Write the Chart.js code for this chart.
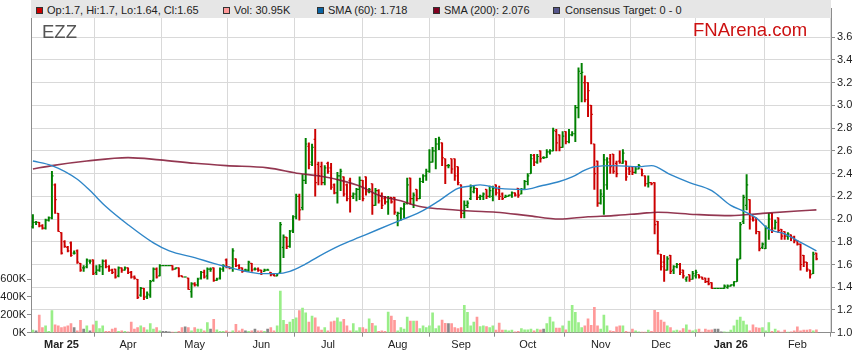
<!DOCTYPE html>
<html><head><meta charset="utf-8">
<script src="https://cdn.jsdelivr.net/npm/chart.js@4.4.1/dist/chart.umd.min.js"></script>
<style>
html,body{margin:0;padding:0;background:#fff;}
#wrap{position:relative;width:859px;height:363px;overflow:hidden;font-family:"Liberation Sans",Arial,sans-serif;}
#c{position:absolute;left:0;top:0;}
#band{position:absolute;left:31px;top:0;width:800px;height:18px;background:#e6e6e6;}
.sw{position:absolute;top:7px;width:5px;height:5px;border:1px solid #333;}
.lt{position:absolute;top:5px;font-size:11px;line-height:11px;color:#222;white-space:nowrap;}
#ttl{position:absolute;left:42px;top:23px;font-size:18.5px;line-height:18.5px;color:#555;}
#brand{position:absolute;left:693px;top:21px;font-size:18.5px;line-height:18.5px;color:#cc1111;}
</style></head>
<body><div id="wrap"><canvas id="c" width="859" height="363"></canvas>
<div id="band">
 <div class="sw" style="left:5px;background:#cc0000"></div><span class="lt" style="left:16px">Op:1.7, Hi:1.7, Lo:1.64, Cl:1.65</span>
 <div class="sw" style="left:192px;background:#ff9999"></div><span class="lt" style="left:203px">Vol: 30.95K</span>
 <div class="sw" style="left:286px;background:#0a64a4"></div><span class="lt" style="left:297px">SMA (60): 1.718</span>
 <div class="sw" style="left:402px;background:#800020"></div><span class="lt" style="left:413px">SMA (200): 2.076</span>
 <div class="sw" style="left:522px;background:#55558a"></div><span class="lt" style="left:534px">Consensus Target: 0 - 0</span>
</div>
<div id="ttl">EZZ</div><div id="brand">FNArena.com</div>
</div>
<script>
// ---- data ----
const opens = [
1.93,1.97,1.97,1.94,1.92,1.99,2.01,2.30,2.05,1.88,
1.80,1.75,1.79,1.70,1.72,1.61,1.57,1.58,1.63,1.64,
1.53,1.55,1.58,1.63,1.58,1.55,1.56,1.50,1.57,1.55,
1.57,1.53,1.49,1.47,1.33,1.39,1.32,1.33,1.46,1.56,
1.50,1.59,1.59,1.59,1.59,1.56,1.57,1.50,1.49,1.48,
1.36,1.43,1.42,1.48,1.53,1.50,1.56,1.57,1.46,1.48,
1.56,1.64,1.58,1.57,1.65,1.59,1.57,1.55,1.55,1.61,
1.56,1.56,1.55,1.54,1.55,1.53,1.51,1.50,1.53,1.75,
1.84,1.76,1.90,2.02,2.20,2.10,2.34,2.64,2.50,2.70,
2.48,2.46,2.32,2.49,2.45,2.30,2.23,2.38,2.37,2.30,
2.34,2.20,2.22,2.26,2.34,2.37,2.24,2.31,2.12,2.25,
2.20,2.18,2.15,2.19,2.19,2.03,2.05,2.09,2.14,2.36,
2.18,2.26,2.18,2.33,2.38,2.42,2.50,2.60,2.66,2.67,
2.53,2.47,2.53,2.53,2.46,2.30,2.05,2.12,2.18,2.24,
2.27,2.19,2.20,2.26,2.20,2.20,2.30,2.26,2.22,2.19,
2.20,2.21,2.23,2.27,2.22,2.26,2.33,2.40,2.56,2.50,
2.60,2.54,2.54,2.59,2.60,2.77,2.74,2.63,2.77,2.68,
2.74,2.75,2.98,3.28,3.20,3.20,3.00,2.66,2.51,2.14,
2.20,2.30,2.53,2.57,2.49,2.51,2.49,2.51,2.44,2.46,
2.41,2.44,2.44,2.38,2.31,2.32,2.32,1.98,1.69,1.62,
1.55,1.68,1.55,1.58,1.60,1.55,1.47,1.51,1.47,1.50,
1.51,1.49,1.48,1.45,1.44,1.39,1.39,1.39,1.39,1.40,
1.41,1.42,1.45,1.65,1.98,2.12,2.17,2.02,2.01,1.89,
1.75,1.74,1.92,2.05,1.92,2.01,1.91,1.89,1.85,1.86,
1.84,1.81,1.78,1.68,1.62,1.55,1.52,1.70];
const highs = [
2.04,1.98,1.97,1.95,2.00,2.02,2.42,2.31,2.05,1.88,
1.81,1.76,1.80,1.72,1.73,1.61,1.59,1.65,1.64,1.64,
1.59,1.60,1.64,1.64,1.59,1.56,1.56,1.58,1.57,1.58,
1.57,1.54,1.50,1.47,1.40,1.39,1.36,1.46,1.57,1.57,
1.60,1.59,1.59,1.59,1.59,1.57,1.57,1.50,1.49,1.48,
1.44,1.44,1.48,1.54,1.55,1.57,1.57,1.57,1.48,1.57,
1.60,1.65,1.58,1.74,1.65,1.60,1.57,1.56,1.63,1.61,
1.57,1.57,1.55,1.56,1.56,1.53,1.52,1.52,1.97,1.86,
1.84,1.90,2.03,2.22,2.22,2.39,2.71,2.67,2.66,2.79,
2.50,2.50,2.47,2.50,2.49,2.31,2.41,2.44,2.37,2.31,
2.36,2.23,2.27,2.37,2.34,2.37,2.27,2.31,2.27,2.26,
2.23,2.20,2.20,2.19,2.19,2.06,2.10,2.14,2.36,2.36,
2.23,2.26,2.36,2.39,2.44,2.61,2.63,2.71,2.72,2.67,
2.53,2.48,2.53,2.53,2.46,2.30,2.16,2.16,2.30,2.29,
2.27,2.21,2.23,2.26,2.29,2.29,2.30,2.29,2.23,2.21,
2.21,2.24,2.23,2.27,2.27,2.34,2.40,2.57,2.57,2.57,
2.60,2.55,2.61,2.61,2.80,2.79,2.74,2.77,2.77,2.79,
2.77,3.00,3.33,3.37,3.26,3.20,3.00,2.66,2.51,2.26,
2.57,2.54,2.57,2.57,2.51,2.60,2.61,2.51,2.46,2.46,
2.46,2.48,2.44,2.38,2.38,2.32,2.32,1.98,1.69,1.68,
1.67,1.68,1.59,1.61,1.61,1.55,1.49,1.51,1.54,1.55,
1.51,1.49,1.48,1.48,1.44,1.39,1.39,1.39,1.42,1.42,
1.42,1.45,1.65,1.97,2.21,2.39,2.17,2.02,2.01,1.89,
1.79,1.94,2.05,2.05,1.99,2.01,1.91,1.89,1.88,1.86,
1.85,1.81,1.78,1.68,1.62,1.55,1.71,1.70];
const lows = [
1.92,1.95,1.93,1.91,1.91,1.98,2.00,2.05,1.89,1.69,
1.75,1.71,1.67,1.69,1.61,1.54,1.54,1.57,1.61,1.51,
1.51,1.54,1.51,1.57,1.54,1.52,1.48,1.49,1.53,1.55,
1.52,1.48,1.47,1.30,1.32,1.29,1.30,1.31,1.45,1.48,
1.50,1.59,1.59,1.59,1.55,1.56,1.49,1.49,1.49,1.38,
1.31,1.41,1.41,1.47,1.48,1.47,1.54,1.45,1.46,1.47,
1.54,1.57,1.56,1.54,1.58,1.56,1.53,1.54,1.54,1.54,
1.55,1.54,1.51,1.54,1.55,1.50,1.50,1.50,1.53,1.66,
1.74,1.75,1.88,2.00,1.99,2.08,2.31,2.44,2.47,2.20,
2.30,2.30,2.30,2.40,2.26,2.22,2.14,2.25,2.20,2.16,
2.06,2.18,2.16,2.17,2.16,2.21,2.23,2.04,2.12,2.14,
2.09,2.13,2.04,2.14,2.04,1.94,1.99,2.01,2.13,2.13,
2.10,2.16,2.18,2.32,2.34,2.41,2.50,2.44,2.61,2.47,
2.31,2.45,2.40,2.34,2.30,2.01,2.01,2.10,2.17,2.23,
2.17,2.17,2.17,2.18,2.19,2.16,2.21,2.17,2.17,2.19,
2.20,2.19,2.20,2.19,2.22,2.26,2.30,2.40,2.47,2.49,
2.50,2.53,2.54,2.57,2.60,2.60,2.60,2.63,2.66,2.67,
2.73,2.68,2.89,3.03,3.03,2.90,2.66,2.26,2.11,2.13,
2.04,2.26,2.40,2.40,2.37,2.49,2.49,2.34,2.39,2.39,
2.40,2.44,2.38,2.29,2.28,2.30,1.87,1.69,1.55,1.45,
1.55,1.52,1.52,1.57,1.51,1.48,1.45,1.45,1.47,1.48,
1.48,1.47,1.44,1.42,1.39,1.39,1.39,1.39,1.39,1.39,
1.41,1.41,1.45,1.65,1.96,2.08,1.91,1.98,1.87,1.72,
1.74,1.74,1.82,1.88,1.91,1.88,1.82,1.82,1.82,1.81,
1.79,1.77,1.55,1.58,1.54,1.48,1.52,1.64];
const closes = [
1.97,1.97,1.94,1.92,1.99,2.01,2.38,2.17,1.89,1.70,
1.76,1.72,1.68,1.70,1.62,1.55,1.57,1.64,1.63,1.52,
1.55,1.58,1.63,1.58,1.55,1.53,1.49,1.57,1.55,1.57,
1.53,1.49,1.48,1.31,1.39,1.31,1.34,1.45,1.56,1.49,
1.59,1.59,1.59,1.59,1.56,1.57,1.50,1.49,1.49,1.38,
1.43,1.42,1.47,1.53,1.49,1.56,1.56,1.46,1.47,1.56,
1.59,1.58,1.57,1.72,1.59,1.57,1.54,1.55,1.62,1.55,
1.56,1.55,1.52,1.55,1.55,1.51,1.50,1.52,1.95,1.84,
1.76,1.89,2.02,2.20,2.08,2.34,2.66,2.48,2.63,2.32,
2.38,2.32,2.45,2.42,2.28,2.23,2.38,2.42,2.22,2.18,
2.20,2.22,2.26,2.34,2.18,2.24,2.26,2.12,2.25,2.16,
2.12,2.15,2.18,2.15,2.06,2.05,2.09,2.13,2.30,2.18,
2.21,2.18,2.33,2.38,2.42,2.50,2.60,2.66,2.70,2.54,
2.47,2.47,2.44,2.38,2.32,2.05,2.12,2.14,2.28,2.27,
2.19,2.20,2.22,2.20,2.25,2.27,2.23,2.20,2.18,2.20,
2.21,2.23,2.21,2.21,2.26,2.33,2.38,2.53,2.50,2.55,
2.53,2.54,2.59,2.60,2.78,2.67,2.63,2.73,2.68,2.74,
2.75,2.98,3.30,3.29,3.05,3.13,2.92,2.40,2.14,2.22,
2.52,2.50,2.46,2.42,2.40,2.50,2.58,2.37,2.42,2.41,
2.44,2.47,2.40,2.31,2.32,2.31,1.95,1.72,1.58,1.55,
1.65,1.54,1.58,1.60,1.53,1.50,1.49,1.47,1.52,1.53,
1.49,1.47,1.45,1.43,1.39,1.39,1.39,1.39,1.41,1.41,
1.42,1.45,1.64,1.95,2.19,2.30,2.00,1.99,1.89,1.74,
1.78,1.92,2.00,1.90,1.97,1.90,1.85,1.85,1.87,1.84,
1.81,1.78,1.60,1.62,1.56,1.51,1.69,1.65];
// volume in thousands of shares
const volumes = [
29,22,196,58,76,15,247,87,76,58,
65,76,102,58,22,138,40,76,22,87,
131,47,76,15,15,40,51,15,22,15,
11,120,40,58,76,58,33,102,40,58,
22,15,15,11,5,5,15,58,65,58,
22,58,40,40,22,112,40,149,33,15,
15,22,5,22,94,22,40,22,15,22,
40,22,22,15,40,58,22,76,465,138,
94,120,149,167,247,276,221,120,185,167,
65,29,58,22,123,131,167,123,149,76,
22,102,22,58,58,40,156,105,76,15,
22,15,232,185,138,22,58,40,174,131,
131,131,47,76,58,76,221,47,76,142,
105,102,102,58,47,58,305,229,76,120,
174,69,76,69,58,76,29,109,29,29,
22,29,11,15,47,33,33,40,22,40,
33,40,102,174,123,51,51,76,33,131,
305,229,113,58,76,156,83,283,76,40,
196,76,22,15,65,76,76,15,5,40,
22,11,5,5,29,15,250,229,142,120,
76,58,22,29,22,47,87,29,22,33,
40,5,40,29,33,40,40,11,11,5,
29,76,142,174,131,87,22,87,58,51,
58,22,113,15,40,22,5,29,5,11,
22,65,22,29,29,36,22,31];
const sma60Idx = [0,6,14,18,23,30,38,43,51,57,61,67,72,77,81,85,90,97,103,109,116,122,128,134,138,141,147,155,160,166,170,174,177,183,191,195,201,207,214,220,224,228,232,237,241,245,247];
const sma60Val = [2.51,2.47,2.35,2.25,2.11,1.95,1.79,1.72,1.66,1.61,1.58,1.54,1.52,1.52,1.54,1.59,1.67,1.77,1.84,1.91,1.99,2.06,2.16,2.27,2.29,2.30,2.27,2.26,2.29,2.33,2.37,2.43,2.46,2.47,2.46,2.47,2.39,2.32,2.25,2.12,2.07,2.01,1.91,1.87,1.81,1.75,1.72];
const sma200Idx = [0,6,17,30,40,51,61,74,84,90,97,103,109,116,122,128,138,146,156,166,175,183,192,197,209,220,230,241,247];
const sma200Val = [2.44,2.47,2.51,2.54,2.52,2.49,2.47,2.45,2.40,2.38,2.34,2.29,2.21,2.16,2.11,2.09,2.07,2.06,2.03,2.00,2.02,2.03,2.05,2.06,2.04,2.03,2.05,2.07,2.08];
const monthIdx = [9,30,51,72,93,115,135,156,179,198,220,241];
const monthLabels = ['Mar 25','Apr','May','Jun','Jul','Aug','Sep','Oct','Nov','Dec','Jan 26','Feb'];
const priceTicks = [1.0,1.2,1.4,1.6,1.8,2.0,2.2,2.4,2.6,2.8,3.0,3.2,3.4,3.6];
const volTicks = [0,200,400,600];

// ---- chart ----
const FONT = '"Liberation Sans", Arial, sans-serif';
Chart.defaults.font.family = FONT;
const idx = closes.map((_, i) => i);
const GREEN = '#008000', RED = '#cc0000';
const barCol = idx.map(i => closes[i] >= opens[i] ? GREEN : RED);
const volCol = idx.map(i => closes[i] > opens[i] ? '#99ee88' : (closes[i] < opens[i] ? '#ff9999' : '#888888'));
const GRID = '#d9d9d9', AXIS = '#8c8c8c';

new Chart(document.getElementById('c'), {
  data: {
    datasets: [
      { type: 'bar', label: 'vol', yAxisID: 'yv', order: 10, grouped: false,
        data: idx.map(i => ({ x: i, y: volumes[i] })),
        backgroundColor: volCol, barThickness: 2, borderWidth: 0 },
      { type: 'bar', label: 'hl', yAxisID: 'yp', order: 5, grouped: false,
        data: idx.map(i => ({ x: i, y: [lows[i], highs[i]] })),
        backgroundColor: barCol, barThickness: 1.3, borderWidth: 0, borderSkipped: false },
      { type: 'line', label: 'open', yAxisID: 'yp', order: 4, showLine: false,
        data: idx.map(i => ({ x: i - 0.25, y: opens[i] })),
        pointStyle: 'line', pointRadius: 0.8, pointBorderWidth: 1.2, pointBorderColor: barCol, pointBackgroundColor: barCol },
      { type: 'line', label: 'close', yAxisID: 'yp', order: 4, showLine: false,
        data: idx.map(i => ({ x: i + 0.25, y: closes[i] })),
        pointStyle: 'line', pointRadius: 0.8, pointBorderWidth: 1.2, pointBorderColor: barCol, pointBackgroundColor: barCol },
      { type: 'line', label: 'SMA (200)', yAxisID: 'yp', order: 2,
        data: sma200Idx.map((v, k) => ({ x: v, y: sma200Val[k] })),
        borderColor: 'rgba(128,20,50,0.85)', borderWidth: 1.6, pointRadius: 0, cubicInterpolationMode: 'monotone' },
      { type: 'line', label: 'SMA (60)', yAxisID: 'yp', order: 1,
        data: sma60Idx.map((v, k) => ({ x: v, y: sma60Val[k] })),
        borderColor: '#2f86c8', borderWidth: 1.4, pointRadius: 0, cubicInterpolationMode: 'monotone' }
    ]
  },
  options: {
    responsive: false, animation: false, devicePixelRatio: 1, events: [],
    layout: { padding: { top: 0, left: 0, right: 0, bottom: 0 } },
    plugins: { legend: { display: false }, tooltip: { enabled: false } },
    scales: {
      x: {
        type: 'linear', min: -0.6, max: 251.6, position: 'bottom', offset: false,
        afterBuildTicks: s => { s.ticks = monthIdx.map(v => ({ value: v })); },
        ticks: { autoSkip: false, maxRotation: 0, padding: 2, color: '#222',
          callback: (v, k) => monthLabels[k],
          font: ctx => ({ family: FONT, size: 11, weight: (ctx.tick && /\d/.test(String(ctx.tick.label))) ? 'bold' : 'normal' }) },
        grid: { color: GRID, lineWidth: 1, drawTicks: true, tickLength: 4, tickColor: AXIS },
        border: { display: true, color: AXIS, width: 1 },
        afterFit: s => { s.height = 30.3; }
      },
      yp: {
        type: 'linear', position: 'right', min: 1.0, max: 1 + 332.7 / 116.7,
        afterBuildTicks: s => { s.ticks = priceTicks.map(v => ({ value: v })); },
        ticks: { color: '#222', font: { size: 11 }, padding: 2, callback: v => Number(v).toFixed(1) },
        grid: { color: GRID, lineWidth: 1, tickLength: 4, tickColor: AXIS },
        border: { display: true, color: AXIS, width: 1 },
        afterFit: s => { s.width = 28; }
      },
      yv: {
        type: 'linear', position: 'left', min: 0, max: 332.7 / 18.35 * 200,
        afterBuildTicks: s => { s.ticks = volTicks.map(v => ({ value: v })); },
        ticks: { color: '#222', font: { size: 11 }, padding: 1, callback: v => v + 'K' },
        grid: { drawOnChartArea: false, tickLength: 4, tickColor: AXIS },
        border: { display: true, color: AXIS, width: 1 },
        afterFit: s => { s.width = 31; }
      }
    }
  }
});
</script>
</body></html>
